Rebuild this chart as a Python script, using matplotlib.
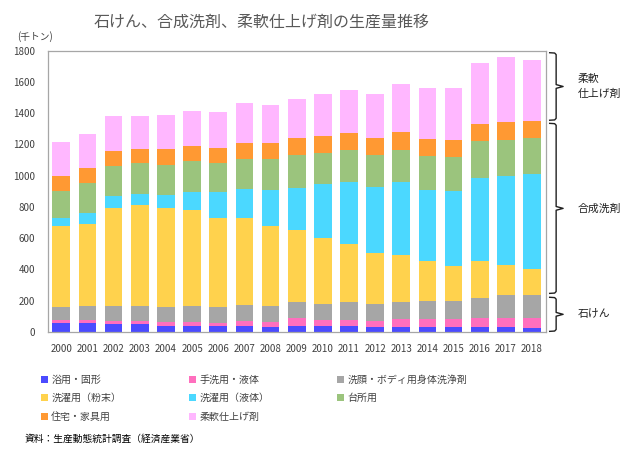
import matplotlib
matplotlib.use("Agg")
import matplotlib.pyplot as plt
from matplotlib.patches import Patch
import matplotlib.transforms as mtransforms
import numpy as np

plt.rcParams['font.family'] = ['Noto Sans CJK JP', 'DejaVu Sans']

years = [str(y) for y in range(2000, 2019)]
bath_solid   = [57, 57, 51, 51, 38, 38, 38, 38, 32, 38, 38, 38, 32, 32, 32, 32, 32, 32, 26]
hand_liquid  = [22, 22, 19, 19, 26, 26, 17, 32, 32, 52, 39, 39, 38, 51, 51, 51, 58, 58, 64]
face_body    = [81, 87, 96, 96, 96, 102, 105, 103, 102, 102, 102, 115, 109, 109, 115, 115, 128, 147, 147]
laundry_pow  = [518, 525, 627, 647, 633, 615, 569, 556, 512, 461, 422, 371, 326, 301, 256, 224, 236, 192, 166]
laundry_liq  = [51, 68, 77, 70, 83, 115, 167, 184, 231, 268, 346, 397, 421, 467, 455, 478, 531, 569, 608]
kitchen      = [171, 192, 192, 196, 192, 198, 183, 192, 196, 209, 196, 204, 206, 204, 217, 218, 235, 230, 230]
house_furn   = [98, 98, 96, 92, 103, 96, 98, 104, 104, 111, 111, 109, 109, 116, 109, 110, 111, 116, 109]
softener     = [218, 218, 224, 211, 217, 224, 231, 256, 243, 248, 269, 275, 282, 307, 326, 333, 390, 416, 390]

series = [bath_solid, hand_liquid, face_body, laundry_pow, laundry_liq, kitchen, house_furn, softener]
labels = ['浴用・固形', '手洗用・液体', '洗顔・ボディ用身体洗浄剤', '洗濯用（粉末）',
          '洗濯用（液体）', '台所用', '住宅・家具用', '柔軟仕上げ剤']
colors = ['#4B4BFF', '#FF6FBE', '#A6A6A6', '#FFD24D', '#4BD8FF', '#9BC47D', '#FF9933', '#FFB7FF']

groups = ['柔軟\n仕上げ剤', '合成洗剤', '石けん']
group_ranges = [(1355, 1787), (247, 1335), (4, 222)]

fig = plt.figure(figsize=(6.34, 4.51), dpi=100)
ax = fig.add_axes([0.0752, 0.2639, 0.7855, 0.6237])

x = np.arange(len(years))
bottom = np.zeros(len(years))
handles = []
for vals, lab, col in zip(series, labels, colors):
    v = np.array(vals, dtype=float)
    ax.bar(x, v, bottom=bottom, width=0.675, color=col, edgecolor='none', label=lab)
    bottom += v
    handles.append(Patch(facecolor=col, edgecolor='none', label=lab))

ax.set_xlim(-0.52, len(years) - 0.48)
ax.set_ylim(0, 1800)
ax.set_yticks(range(0, 1801, 200))
ax.set_xticks(x)
ax.set_xticklabels(years)
ax.tick_params(axis='both', length=0, labelsize=7, colors='#404040')
ax.tick_params(axis='x', pad=9)
ax.tick_params(axis='y', pad=9)
for s in ax.spines.values():
    s.set_color('#A6A6A6')
    s.set_linewidth(0.9)

fig.text(0.412, 0.951, '石けん、合成洗剤、柔軟仕上げ剤の生産量推移', ha='center', va='center',
         fontsize=11.5, color='#595959')
fig.text(0.027, 0.918, '(千トン)', ha='left', va='center', fontsize=7, color='#404040')

# braces
trans = mtransforms.blended_transform_factory(ax.transAxes, ax.transData)
for (lo, hi), g in zip(group_ranges, groups):
    mid = (lo + hi) / 2
    d = 12
    xs = [1.008, 1.018, 1.021, 1.021, 1.035, 1.021, 1.021, 1.018, 1.008]
    ys = [hi, hi - 2, hi - d, mid + d, mid, mid - d, lo + d, lo + 2, lo]
    ax.plot(xs, ys, color='#202020', lw=1.0, transform=trans, clip_on=False)
    ax.text(1.065, mid, g, transform=trans, ha='left', va='center', fontsize=7.8,
            color='#202020', linespacing=1.65)

order = [0, 3, 6, 1, 4, 7, 2, 5]
leg = fig.legend([handles[i] for i in order], [labels[i] for i in order], ncol=3,
                 loc='upper left', bbox_to_anchor=(0.065, 0.169), frameon=False,
                 fontsize=7.2, handlelength=0.7, handleheight=0.7, handletextpad=0.3,
                 columnspacing=6.8, labelspacing=0.85, borderaxespad=0, borderpad=0)
for t in leg.get_texts():
    t.set_color('#404040')

fig.text(0.038, 0.028, '資料：生産動態統計調査（経済産業省）', ha='left', va='center',
         fontsize=7, color='#000000')

fig.savefig('out.png', dpi=100)
